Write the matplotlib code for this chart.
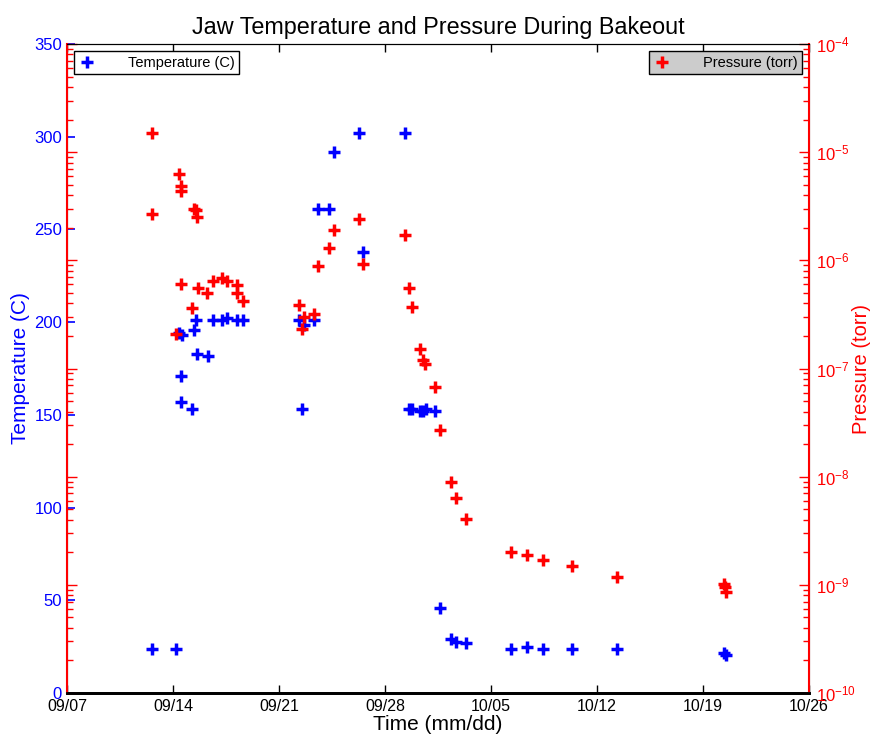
import matplotlib
matplotlib.use('Agg')
import matplotlib.pyplot as plt
import matplotlib.dates as mdates
from matplotlib.ticker import LogLocator, NullFormatter
import pandas as pd

plt.rcParams['font.family'] = ['Liberation Sans', 'DejaVu Sans']

# jaw thermocouple readings
temp_times = [
    '2011-09-12 15:00', '2011-09-14 05:00', '2011-09-14 10:00', '2011-09-14 12:30',
    '2011-09-14 13:00', '2011-09-14 13:40', '2011-09-15 06:30', '2011-09-15 08:40',
    '2011-09-15 12:15', '2011-09-15 13:30', '2011-09-16 07:10', '2011-09-16 14:40',
    '2011-09-17 06:30', '2011-09-17 14:25', '2011-09-18 06:15', '2011-09-18 15:10',
    '2011-09-22 07:40', '2011-09-22 13:00', '2011-09-22 15:35', '2011-09-23 07:25',
    '2011-09-23 14:25', '2011-09-24 07:10', '2011-09-24 14:40', '2011-09-26 06:40',
    '2011-09-26 13:40', '2011-09-29 07:40', '2011-09-29 14:25', '2011-09-29 18:15',
    '2011-09-30 07:10', '2011-09-30 12:30', '2011-09-30 16:20', '2011-10-01 07:25',
    '2011-10-01 15:20', '2011-10-02 07:55', '2011-10-02 15:50', '2011-10-03 08:10',
    '2011-10-06 08:25', '2011-10-07 08:40', '2011-10-08 10:05', '2011-10-10 07:55',
    '2011-10-13 08:25', '2011-10-20 09:10', '2011-10-20 13:00',
]
temp_c = [
    24, 24, 194, 171, 157, 193, 153, 196,
    201, 183, 182, 201, 201, 202, 201, 201,
    201, 153, 198.5, 201, 261, 261, 292, 302,
    238, 302, 153, 153, 152, 152, 153, 152,
    45.7, 29, 27.7, 26.8, 23.6, 24.6, 23.6, 23.6,
    23.6, 21.4, 20.5,
]

# vacuum gauge readings
pres_times = [
    '2011-09-12 14:40', '2011-09-12 14:40', '2011-09-14 05:00', '2011-09-14 09:10',
    '2011-09-14 12:15', '2011-09-14 12:30', '2011-09-14 13:00', '2011-09-15 06:30',
    '2011-09-15 09:10', '2011-09-15 12:15', '2011-09-15 13:30', '2011-09-15 14:55',
    '2011-09-16 06:40', '2011-09-16 14:40', '2011-09-17 06:30', '2011-09-17 14:25',
    '2011-09-18 06:15', '2011-09-18 06:15', '2011-09-18 15:10', '2011-09-22 07:40',
    '2011-09-22 13:00', '2011-09-22 15:35', '2011-09-23 07:25', '2011-09-23 14:25',
    '2011-09-24 07:10', '2011-09-24 14:40', '2011-09-26 06:40', '2011-09-26 13:00',
    '2011-09-29 07:40', '2011-09-29 13:55', '2011-09-29 18:15', '2011-09-30 07:25',
    '2011-09-30 12:45', '2011-09-30 15:50', '2011-10-01 07:10', '2011-10-01 15:20',
    '2011-10-02 07:55', '2011-10-02 15:50', '2011-10-03 08:10', '2011-10-06 08:25',
    '2011-10-07 08:40', '2011-10-08 10:05', '2011-10-10 07:55', '2011-10-13 08:25',
    '2011-10-20 09:10', '2011-10-20 11:15', '2011-10-20 13:00',
]
pres_torr = [
    1.5e-5, 2.7e-6, 2.1e-7, 6.3e-6, 4.9e-6, 4.4e-6, 6.1e-7, 3.6e-7,
    3.0e-6, 2.9e-6, 2.5e-6, 5.5e-7, 5.0e-7, 6.5e-7, 6.8e-7, 6.5e-7,
    5.9e-7, 5.0e-7, 4.2e-7, 3.9e-7, 2.3e-7, 3.0e-7, 3.2e-7, 8.8e-7,
    1.3e-6, 1.9e-6, 2.4e-6, 9.2e-7, 1.7e-6, 5.5e-7, 3.7e-7, 1.5e-7,
    1.2e-7, 1.1e-7, 6.8e-8, 2.7e-8, 8.9e-9, 6.4e-9, 4.1e-9, 2.0e-9,
    1.9e-9, 1.7e-9, 1.48e-9, 1.19e-9, 1.02e-9, 0.96e-9, 0.86e-9,
]

t_temp = pd.to_datetime(temp_times)
t_pres = pd.to_datetime(pres_times)
week_ticks = pd.date_range('2011-09-07', '2011-10-26', freq='7D')

fig = plt.figure(figsize=(8.73, 7.36), dpi=100)
ax1 = fig.add_axes([0.0767, 0.0584, 0.85, 0.8818])
ax2 = ax1.twinx()

ax1.plot(t_temp, temp_c, linestyle='none', marker='+', ms=8, mew=2.5,
         color='#0000ff', label='Temperature (C)')
ax2.plot(t_pres, pres_torr, linestyle='none', marker='+', ms=8, mew=2.5,
         color='#ff0000', label='Pressure (torr)')

ax1.set_xlim(week_ticks[0], week_ticks[-1])
ax1.set_xticks(week_ticks)
ax1.xaxis.set_major_formatter(mdates.DateFormatter('%m/%d'))
ax1.set_ylim(0, 350)
ax1.set_yticks(range(0, 351, 50))

ax2.set_yscale('log')
ax2.set_ylim(1e-10, 1e-4)
ax2.yaxis.set_major_locator(LogLocator(base=10, numticks=10))
ax2.yaxis.set_minor_locator(LogLocator(base=10, subs=range(2, 10), numticks=10))
ax2.yaxis.set_minor_formatter(NullFormatter())

ax1.tick_params(axis='x', direction='in', top=True, length=6, width=1,
                labelsize=11.5, colors='black', pad=4)
ax1.tick_params(axis='y', direction='in', length=6, width=1.2,
                colors='#0000ff', labelsize=12)
ax2.tick_params(axis='y', which='major', direction='in', left=True, right=True,
                length=7, width=1, colors='#ff0000', labelsize=12, pad=5)
ax2.tick_params(axis='y', which='minor', direction='in', left=True, right=True,
                length=4, width=1, colors='#ff0000')

for ax in (ax1, ax2):
    ax.spines['top'].set_color('black')
    ax.spines['bottom'].set_color('black')
    ax.spines['bottom'].set_linewidth(2)
ax2.spines['left'].set_color('#ff0000')
ax2.spines['right'].set_color('#ff0000')
ax2.spines['left'].set_linewidth(1.5)
ax2.spines['right'].set_linewidth(1.5)

ax1.set_xlabel('Time (mm/dd)', fontsize=15, labelpad=1)
ax1.set_ylabel('Temperature (C)', fontsize=15, color='#0000ff')
ax2.set_ylabel('Pressure (torr)', fontsize=14.5, color='#ff0000')
ax1.yaxis.set_label_coords(-0.05, 0.5)
ax2.yaxis.set_label_coords(1.058, 0.5)
ax1.set_title('Jaw Temperature and Pressure During Bakeout', fontsize=16.8, pad=7)

leg1 = ax1.legend(loc='upper left', fontsize=10.5, fancybox=False, edgecolor='black',
                  framealpha=1, handlelength=1.2, borderpad=0.3,
                  borderaxespad=0.5, handletextpad=2.2)
leg1.get_frame().set_linewidth(1)
leg2 = ax2.legend(loc='upper right', fontsize=10.5, fancybox=False, edgecolor='black',
                  facecolor='#cccccc', framealpha=1, handlelength=1.2, borderpad=0.3,
                  borderaxespad=0.5, handletextpad=2.2)
leg2.get_frame().set_linewidth(1)

fig.savefig('out.png', dpi=100)
